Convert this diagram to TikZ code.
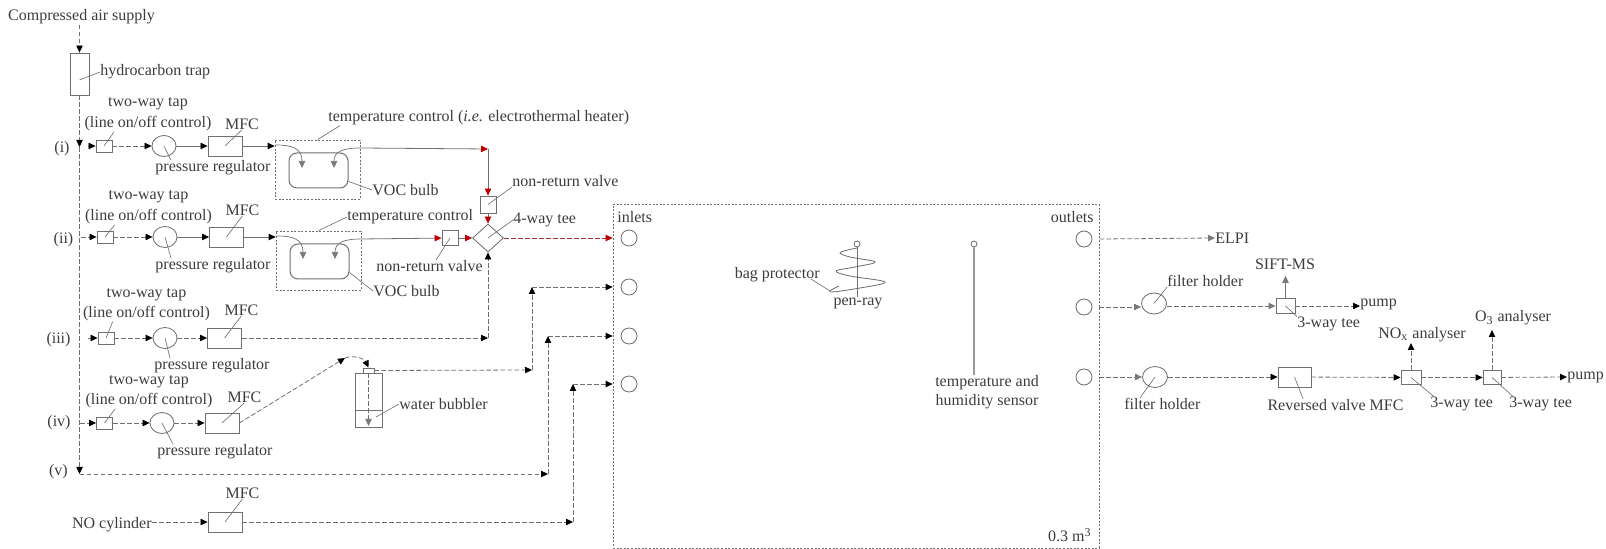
\documentclass[tikz,border=0pt]{standalone}
\usepackage{fontspec}
\setmainfont{Liberation Serif}
\usetikzlibrary{arrows.meta,shapes.geometric}

\definecolor{ink}{HTML}{3C3C3C}
\definecolor{wire}{HTML}{707070}
\definecolor{tipred}{HTML}{C00000}
\definecolor{tipgray}{HTML}{7A7A7A}

\tikzset{
  lab/.style={inner sep=0pt,text=ink,font=\fontsize{8pt}{9pt}\selectfont},
  unit/.style={draw=wire,line width=0.42pt,inner sep=0pt,minimum width=#1},
  unit/.default=8pt,
  oval/.style={draw=wire,line width=0.42pt,ellipse,inner sep=0pt,minimum width=12pt,minimum height=10.5pt},
  port/.style={draw=wire,line width=0.42pt,circle,inner sep=0pt,minimum size=8pt},
  leader/.style={draw=wire,line width=0.32pt},
  solidpipe/.style={draw=wire,line width=0.4pt,-{Triangle[length=3.5pt,width=3.2pt,color=black]}},
  pipe/.style={solidpipe,dash pattern=on 2.4pt off 1.1pt},
  graypipe/.style={pipe,-{Triangle[length=3.5pt,width=3.2pt,color=tipgray]}},
  redline/.style={solidpipe,-{Triangle[length=3.5pt,width=3.2pt,color=tipred]}},
  redpipe/.style={redline,draw=tipred!55!wire,dash pattern=on 2.4pt off 1.1pt},
  bulbline/.style={draw=wire,line width=0.35pt,-{Triangle[length=3.5pt,width=3.2pt,color=tipgray]}},
  dotbox/.style={draw=wire,line width=0.35pt,dash pattern=on 1pt off 0.8pt,inner sep=0pt}
}

\begin{document}
\begin{tikzpicture}[x=0.5pt,y=-0.5pt]
\useasboundingbox (0,0) rectangle (1606,549);

% air supply and trap
\node[lab] (air) at (81.5,17) {Compressed air supply};
\node[unit=9.5pt,minimum height=21pt] (trap) at (79.5,74) {};
\node[lab,anchor=west] (hc) at (100,72) {hydrocarbon trap};
\draw[pipe] (trap |- air.south) -- (trap.north);
\draw[leader] ([yshift=-3pt]trap.center) -- (hc.west);

\coordinate (split1) at (79.5,147);
\coordinate (split5) at (79.5,474);
\draw[pipe] (trap.south) -- (split1);
\draw[pipe] (split1) -- (split5);

\foreach \pos/\txt in {{(62,149)/(i)},{(63.5,240)/(ii)},{(58.5,340)/(iii)},{(59,423)/(iv)},{(58.5,472)/(v)}}
  \node[lab] at \pos {\txt};

% the four lines
\foreach \n/\sx/\y/\tapx/\regx/\mfcx/\twox/\twoy/\ctly/\mlx/\mly/\prx/\pry/\regsty in {
  1/88/146/104/164/225/148/104/124/242/124/213/168/solidpipe,
  2/81/237/105/165/226.5/148.5/197/217/242.5/210/213/266/solidpipe,
  3/88/338/106/165/224.5/146.5/295/314/241.5/310/212/366/pipe,
  4/80/423/104.5/162/222/149/382/401/244.5/397/215/452/pipe} {
  \coordinate (src\n) at (\sx,\y);
  \node[unit,minimum height=6pt] (tap\n) at (\tapx,\y) {};
  \node[oval] (reg\n) at (\regx,\y) {};
  \node[unit=17pt,minimum height=10pt] (mfc\n) at (\mfcx,\y) {};
  \node[lab] at (\twox,\twoy) {two-way tap};
  \node[lab] (ctl\n) at (\twox,\ctly) {(line on/off control)};
  \node[lab] (ml\n) at (\mlx,\mly) {MFC};
  \node[lab] (pl\n) at (\prx,\pry) {pressure regulator};
  \draw[pipe] (src\n) -- (tap\n);
  \draw[pipe] (tap\n) -- (reg\n);
  \draw[\regsty] (reg\n) -- (mfc\n);
  \draw[leader] (tap\n.center) -- ([xshift=15pt]ctl\n.south west);
  \draw[leader] (mfc\n.center) -- (ml\n.south);
  \draw[leader] (reg\n.center) -- ([xshift=8pt]pl\n.north west);
}

% tee and valves
\coordinate (join) at (488,149);
\node[unit,minimum height=8.5pt] (nrv1) at (488,204.5) {};
\node[unit,minimum height=7.5pt] (nrv2) at (450,238) {};
\node[draw=wire,line width=0.42pt,diamond,inner sep=0pt,minimum width=15.5pt,minimum height=14pt] (tee) at (488,238) {};
\node[lab,anchor=west] (nl1) at (512,181) {non-return valve};
\node[lab,anchor=east] (nl2) at (483,266) {non-return valve};
\node[lab,anchor=west] (tl) at (513,220) {4-way tee};
\draw[leader] (nrv1.center) -- (nl1.south west);
\draw[leader] (nrv2.center) -- ([xshift=30pt]nl2.north west);
\draw[leader] (tee.center) -- (tl.west);

% heated bulbs
\foreach \n/\hx/\hy/\outend in {1/0/0/join,2/1/91/nrv2} {
  \begin{scope}[shift={(\hx,\hy)}]
    \node[dotbox,minimum width=42.5pt,minimum height=29.5pt] (heat\n) at (317.5,169.5) {};
    \node[draw=wire,line width=0.5pt,rounded corners=4pt,inner sep=0pt,minimum width=29.5pt,minimum height=17.5pt] (bulb\n) at (318.5,170.5) {};
    \coordinate (in\n) at (302,168);
    \coordinate (out\n) at (334,168);
    \coordinate (edge\n) at (360,148);
    \node[lab,anchor=west] (vb\n) at (372,190+10*\n-10) {VOC bulb};
    \draw[bulbline] (275,145) .. controls (292,145) and (302,148) .. (in\n);
    \draw[bulbline,-,{Triangle[length=3.5pt,width=3.2pt,color=tipgray]}-] (out\n) .. controls (334,152) and (342,148) .. (edge\n);
  \end{scope}
  \draw[redline] (edge\n) -- (\outend);
  \draw[solidpipe] (mfc\n) -- (mfc\n -| heat\n.west);
  \draw[leader] (bulb\n.-20) -- (vb\n.west);
}
\node[lab,anchor=west] (hl1) at (328,118) {temperature control (\textit{i.e.} electrothermal heater)};
\node[lab,anchor=west] (hl2) at (347,217) {temperature control};
\draw[leader] (heat1.north) -- ([xshift=6pt]hl1.south west);
\draw[leader] (heat2.north) -- (hl2.west);

\draw[redline] (join) -- (nrv1);
\draw[redline] (nrv1) -- (tee);
\draw[redline] (nrv2) -- (tee);

% chamber
\node[dotbox,minimum width=243pt,minimum height=172pt] (chamber) at (856,376) {};
\node[lab,anchor=west] at (617,217) {inlets};
\node[lab,anchor=east] at (1094,217) {outlets};
\node[lab,anchor=east] at (1092,535) {0.3 m\textsuperscript{3}};
\foreach \n/\y in {1/238,2/287,3/336,4/384} \node[port] (inlet\n) at (629,\y) {};
\foreach \n/\y in {1/239,2/307,3/377} \node[port] (outlet\n) at (1084,\y) {};
\draw[redpipe] (tee) -- (inlet1 -| chamber.west);

% line iii into the tee
\coordinate (c3) at (488,338);
\draw[pipe] (mfc3) -- (c3);
\draw[pipe] (c3) -- (tee.south);

% line iv through the bubbler
\coordinate (bend) at (345,358);
\coordinate (water) at (368.5,410);
\coordinate (c4a) at (532,370);
\coordinate (c4b) at (532,287);
\node[unit=5.5pt,minimum height=2.5pt] (cap) at (368.5,370.5) {};
\node[unit=13.5pt,minimum height=27pt] (bottle) at (368.5,400) {};
\node[lab,anchor=west] (wb) at (399,404) {water bubbler};
\draw[pipe] (mfc4.east) -- (bend);
\draw[pipe] (bend) .. controls (352,355) and (364,358) .. (cap.north);
\draw[draw=wire,line width=0.42pt] (bottle.west |- water) -- (bottle.east |- water);
\draw[graypipe] (cap.south) -- (368.5,426);
\draw[leader] (376,417) -- (wb.west);
\draw[pipe] (cap.east) -- (c4a);
\draw[pipe] (c4a) -- (c4b);
\draw[pipe] (c4b) -- (inlet2 -| chamber.west);

% line v
\coordinate (c5) at (548,474);
\coordinate (c5b) at (548,336);
\draw[pipe] (split5) -- (c5);
\draw[pipe] (c5) -- (c5b);
\draw[pipe] (c5b) -- (inlet3 -| chamber.west);

% NO line
\node[lab,anchor=east] (no) at (152,525) {NO cylinder};
\node[unit=17pt,minimum height=10pt] (mfc6) at (225,522) {};
\node[lab] (ml6) at (242.5,493) {MFC};
\coordinate (c6) at (573,522);
\coordinate (c6b) at (573,384);
\draw[pipe] (no.east |- mfc6) -- (mfc6.west);
\draw[leader] (mfc6.center) -- (ml6.south);
\draw[pipe] (mfc6) -- (c6);
\draw[pipe] (c6) -- (c6b);
\draw[pipe] (c6b) -- (inlet4 -| chamber.west);

% inside the chamber
\node[port,minimum size=3pt] (lamp) at (857,244) {};
\node[port,minimum size=3pt] (probe) at (974,244) {};
\node[lab] (pr) at (858,303) {pen-ray};
\node[lab,anchor=east] (bp) at (820,275) {bag protector};
\node[lab] (th1) at (987,383) {temperature and};
\node[lab] at (987,402) {humidity sensor};
\draw[draw=wire,line width=0.42pt] (lamp) -- (lamp |- pr.north);
\draw[draw=wire,line width=0.42pt] plot[smooth,tension=0.6] coordinates {(857,248)(848,250)(840,253)(850,257)(875,262)(855,267)(836,271)(850,276)(885,282)(860,288)(830,292)(839,286)};
\draw[leader] (811,279) -- (830,291);
\draw[draw=gray!80,line width=0.9pt] (probe) -- (probe |- th1.north);

% outlets
\node[lab,anchor=west] (elpi) at (1215,238) {ELPI};
\draw[graypipe] (outlet1 -| chamber.east) -- (elpi.west);

\node[oval,minimum width=12.5pt] (fh1) at (1154,303.5) {};
\node[oval,minimum width=12.5pt] (fh2) at (1155,377) {};
\node[lab,anchor=west] (fl1) at (1167,281) {filter holder};
\node[lab,anchor=west] (fl2) at (1124,404) {filter holder};
\draw[leader] (fh1.center) -- (fl1.south west);
\draw[leader] (fh2.center) -- ([xshift=8pt]fl2.north west);
\draw[graypipe] (outlet2 -| chamber.east) -- (outlet2 -| fh1.west);
\draw[graypipe] (outlet3 -| chamber.east) -- (fh2.west);

\node[unit=9.5pt,minimum height=7.5pt] (way1) at (1285.5,306) {};
\node[lab] (sift) at (1285,264) {SIFT-MS};
\node[lab,anchor=west] (pump1) at (1360,304) {pump};
\node[lab,anchor=west] (wl1) at (1297,324) {3-way tee};
\draw[graypipe] (way1 -| fh1.east) -- (way1);
\draw[solidpipe,-{Triangle[length=3.5pt,width=3.2pt,color=tipgray]}] (way1.north) -- ([yshift=-3pt]way1 |- sift.south);
\draw[pipe] (way1) -- (pump1.west |- way1);
\draw[leader] (way1.center) -- (wl1.north west);

\node[unit=16.5pt,minimum height=10pt] (rmfc) at (1294.5,377) {};
\node[unit=10pt,minimum height=7pt] (way2) at (1411,377.5) {};
\node[unit=9pt,minimum height=7pt] (way3) at (1492,377.5) {};
\node[lab] (rl) at (1335.5,405) {Reversed valve MFC};
\node[lab,anchor=west] (wl2) at (1430,404) {3-way tee};
\node[lab,anchor=west] (wl3) at (1509,404) {3-way tee};
\node[lab,anchor=west] (pump2) at (1567,377) {pump};
\node[lab] (nox) at (1422,335) {NO\textsubscript{x} analyser};
\node[lab] (ozo) at (1513,318) {O\textsubscript{3} analyser};
\draw[pipe] (fh2) -- (rmfc);
\draw[pipe] (rmfc) -- (way2);
\draw[pipe] (way2) -- (way3);
\draw[pipe] (way3) -- (pump2.west);
\draw[pipe] (way2.north) -- (way2 |- 0,343);
\draw[pipe] (way3.north) -- (way3 |- 0,330);
\draw[leader] (rmfc.center) -- ([xshift=18pt]rl.north west);
\draw[leader] (way2.center) -- ([xshift=2pt]wl2.north west);
\draw[leader] (way3.center) -- ([xshift=2pt]wl3.north west);

\end{tikzpicture}
\end{document}
